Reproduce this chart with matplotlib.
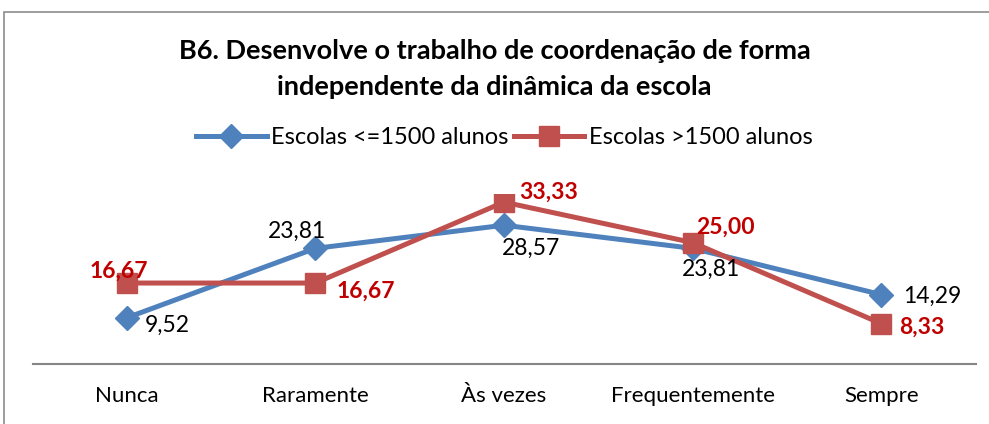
import matplotlib
matplotlib.use("Agg")
import matplotlib.pyplot as plt
from matplotlib.patches import Rectangle

plt.rcParams['font.family'] = ['Lato', 'DejaVu Sans']

categorias = ["Nunca", "Raramente", "Às vezes", "Frequentemente", "Sempre"]
ate_1500 = [9.52, 23.81, 28.57, 23.81, 14.29]
mais_1500 = [16.67, 16.67, 33.33, 25.00, 8.33]
rotulo_ate = ["9,52", "23,81", "28,57", "23,81", "14,29"]
rotulo_mais = ["16,67", "16,67", "33,33", "25,00", "8,33"]

azul = "#4F81BD"
vermelho = "#C0504D"

fig = plt.figure(figsize=(9.89, 4.24), dpi=100)
fig.patches.append(Rectangle((4/989, -0.05), 1.1, (424-12)/424 + 0.05,
                             transform=fig.transFigure, fill=False,
                             edgecolor="#8c8c8c", linewidth=1.2))

ax = fig.add_axes([32.5/989, 60/424, 943/989, 170/424])
x = range(len(categorias))
l1, = ax.plot(x, ate_1500, color=azul, lw=3.6, marker="D", markersize=12,
              label="Escolas <=1500 alunos")
l2, = ax.plot(x, mais_1500, color=vermelho, lw=3.6, marker="s", markersize=14,
              label="Escolas >1500 alunos")

# deslocamentos dos rótulos (pixels)
off_azul = [(18, -8, "left"), (-18, 17, "center"), (27, -23, "center"),
            (18, -21, "center"), (22, -2, "left")]
off_verm = [(-8, 12, "center"), (21, -8, "left"), (15, 10, "left"),
            (4, 15, "left"), (18, -4, "left")]
for i in x:
    dx, dy, ha = off_azul[i]
    ax.annotate(rotulo_ate[i], (i, ate_1500[i]), xytext=(dx, dy),
                textcoords="offset pixels", ha=ha, va="center",
                fontsize=16.5, color="black")
    dx, dy, ha = off_verm[i]
    ax.annotate(rotulo_mais[i], (i, mais_1500[i]), xytext=(dx, dy),
                textcoords="offset pixels", ha=ha, va="center",
                fontsize=16.5, color="#C00000", fontweight="bold")

ax.set_xlim(-0.5, 4.5)
ax.set_ylim(0, 35)
ax.set_xticks(list(x))
ax.set_xticklabels(categorias, fontsize=16)
ax.tick_params(axis="x", length=0, pad=16)
ax.set_yticks([])
for s in ["top", "left", "right"]:
    ax.spines[s].set_visible(False)
ax.spines["bottom"].set_color("#868686")
ax.spines["bottom"].set_linewidth(1.5)
ax.patch.set_alpha(0)

fig.text(0.5, 1 - 51/424, "B6. Desenvolve o trabalho de coordenação de forma",
         ha="center", va="center", fontsize=19.5, fontweight="bold")
fig.text(0.5, 1 - 87/424, "independente da dinâmica da escola",
         ha="center", va="center", fontsize=19.5, fontweight="bold")

fig.legend(handles=[l1, l2], loc="center", bbox_to_anchor=(0.51, 1 - 138/424),
           ncol=2, frameon=False, fontsize=17, handlelength=3.0,
           columnspacing=0.2, handletextpad=0.2)

fig.savefig("out.png", dpi=100)
